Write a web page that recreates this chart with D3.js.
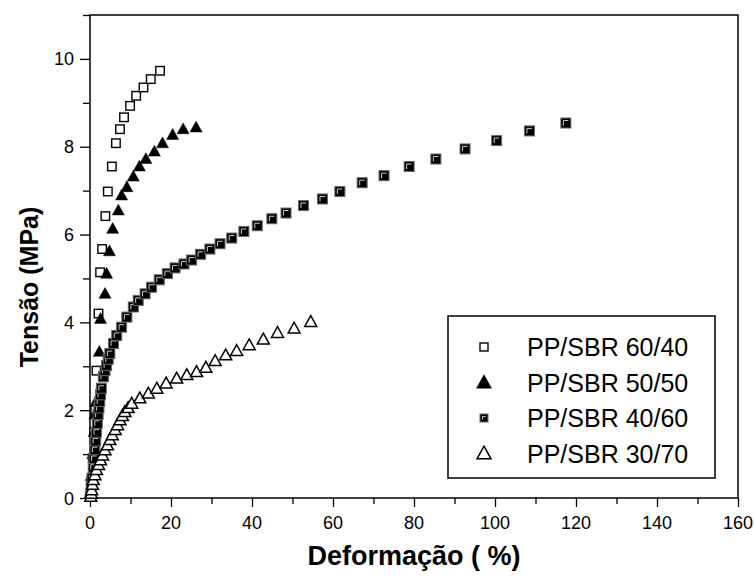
<!DOCTYPE html>
<html>
<head>
<meta charset="utf-8">
<script src="https://cdn.jsdelivr.net/npm/d3@7"></script>
<style>
  body { margin: 0; background: #fff; }
  text { font-family: "Liberation Sans", Arial, sans-serif; fill: #000; }
</style>
</head>
<body>
<svg id="chart" width="754" height="578"></svg>
<script>
// deformation (%) and stress (MPa) for each blend
const pp6040X = [0.2, 0.4, 0.7, 1.0, 1.3, 1.6, 2.1, 2.5, 3.0, 3.8, 4.4, 5.4, 6.4, 7.4, 8.4, 9.9, 11.4, 13.2, 15.0, 17.3];
const pp6040Y = [0.05, 0.4, 0.9, 1.5, 2.0, 2.9, 4.2, 5.14, 5.67, 6.42, 6.98, 7.55, 8.08, 8.40, 8.67, 8.93, 9.16, 9.35, 9.54, 9.73];

const pp5050X = [0.0, 0.3, 0.7, 1.0, 1.2, 1.5, 2.3, 2.6, 3.7, 4.1, 4.8, 5.6, 7.0, 7.8, 9.1, 10.7, 12.2, 13.8, 15.9, 17.9, 20.4, 23.0, 26.2];
const pp5050Y = [0.1, 0.5, 1.0, 1.5, 1.9, 2.2, 3.33, 4.08, 4.65, 5.11, 5.62, 6.13, 6.55, 6.89, 7.08, 7.32, 7.55, 7.72, 7.89, 8.08, 8.27, 8.40, 8.44];

const pp4060X = [0.1, 0.3, 0.5, 0.8, 1.0, 1.2, 1.4, 1.6, 1.8, 2.0, 2.2, 2.4, 2.6, 2.8, 3.3, 3.7, 4.1, 4.5, 4.9, 5.8, 6.6, 7.8, 9.1, 10.7, 11.9, 13.6, 15.2, 17.1, 19.1, 21.0, 23.2, 25.1, 27.3, 29.6, 32.1, 35.0, 38.0, 41.3, 44.9, 48.4, 52.7, 57.4, 61.7, 67.2, 72.6, 78.8, 85.4, 92.6, 100.4, 108.5, 117.5];
const pp4060Y = [0.05, 0.25, 0.45, 0.7, 0.9, 1.1, 1.3, 1.5, 1.7, 1.9, 2.05, 2.2, 2.35, 2.5, 2.76, 2.9, 3.02, 3.16, 3.29, 3.52, 3.70, 3.89, 4.12, 4.35, 4.50, 4.65, 4.80, 4.97, 5.11, 5.24, 5.33, 5.42, 5.55, 5.67, 5.79, 5.92, 6.07, 6.20, 6.36, 6.49, 6.66, 6.81, 6.98, 7.18, 7.34, 7.55, 7.72, 7.95, 8.14, 8.36, 8.54];

const pp3070X = [0.2, 0.3, 0.4, 0.6, 0.8, 1.2, 1.6, 2.1, 2.6, 3.1, 3.7, 4.3, 4.9, 5.5, 6.2, 6.8, 7.4, 8.0, 8.6, 9.4, 10.3, 12.3, 14.4, 16.5, 18.8, 21.4, 23.9, 26.3, 28.6, 30.9, 33.5, 36.2, 39.3, 42.8, 46.3, 50.4, 54.5];
const pp3070Y = [0.03, 0.1, 0.18, 0.3, 0.41, 0.52, 0.64, 0.75, 0.86, 0.97, 1.09, 1.2, 1.32, 1.43, 1.55, 1.66, 1.77, 1.87, 1.96, 2.05, 2.15, 2.27, 2.38, 2.49, 2.61, 2.72, 2.80, 2.87, 2.97, 3.12, 3.25, 3.35, 3.48, 3.61, 3.76, 3.86, 4.01];

const seriesNames = ["PP/SBR 60/40", "PP/SBR 50/50", "PP/SBR 40/60", "PP/SBR 30/70"];
const markerKinds = ["openSquare", "filledTriangle", "filledSquare", "openTriangle"];

const xTicks = [0, 20, 40, 60, 80, 100, 120, 140, 160];
const yTicks = [0, 2, 4, 6, 8, 10];

const series = [
  { name: seriesNames[0], kind: markerKinds[0], pts: pp6040X.map((x, i) => [x, pp6040Y[i]]) },
  { name: seriesNames[1], kind: markerKinds[1], pts: pp5050X.map((x, i) => [x, pp5050Y[i]]) },
  { name: seriesNames[2], kind: markerKinds[2], pts: pp4060X.map((x, i) => [x, pp4060Y[i]]) },
  { name: seriesNames[3], kind: markerKinds[3], pts: pp3070X.map((x, i) => [x, pp3070Y[i]]) }
];

const margin = { top: 15, right: 16, bottom: 80, left: 90 };
const svg = d3.select("#chart");
const width = +svg.attr("width");
const height = +svg.attr("height");

const x = d3.scaleLinear().domain([0, 160]).range([margin.left, width - margin.right]);
const y = d3.scaleLinear().domain([0, 11]).range([height - margin.bottom, margin.top]);

// draws one marker of the given kind at 0,0 inside g
function marker(g, kind, s) {
  if (kind === "openSquare") {
    g.append("rect").attr("x", -s / 2).attr("y", -s / 2).attr("width", s).attr("height", s)
      .attr("fill", "#fff").attr("stroke", "#000").attr("stroke-width", 1.4);
  } else if (kind === "filledSquare") {
    g.append("rect").attr("x", -s / 2).attr("y", -s / 2).attr("width", s).attr("height", s)
      .attr("fill", "#000").attr("stroke", "#666").attr("stroke-width", 1);
    const k = s / 2 - 2.5;
    g.append("path").attr("d", `M${-k},${k} L${-k},${-k} L${k},${-k}`)
      .attr("fill", "none").attr("stroke", "#ccc").attr("stroke-width", 1);
  } else {
    const h = s * 0.9;
    const tri = `M0,${-h * 0.58} L${s / 2},${h * 0.42} L${-s / 2},${h * 0.42} Z`;
    g.append("path").attr("d", tri)
      .attr("fill", kind === "filledTriangle" ? "#000" : "#fff")
      .attr("stroke", "#000").attr("stroke-width", kind === "filledTriangle" ? 0.5 : 1.5)
      .attr("stroke-linejoin", "miter");
  }
}

const sizes = { openSquare: 8.5, filledTriangle: 12, filledSquare: 10, openTriangle: 12 };

// axes
const xAxis = d3.axisBottom(x).tickValues(d3.range(0, 161, 10)).tickSize(0).tickFormat("");
const gx = svg.append("g").attr("transform", `translate(0,${y(0)})`).call(xAxis);
gx.select(".domain").remove();
gx.selectAll(".tick line").attr("y2", (d) => (d % 20 === 0 ? 9 : 6)).attr("stroke", "#000").attr("stroke-width", 1.3);

svg.append("g").selectAll("text").data(xTicks).enter().append("text")
  .attr("x", (d) => x(d)).attr("y", y(0) + 31)
  .attr("text-anchor", "middle").attr("font-size", 18).text((d) => d);

const yAxis = d3.axisLeft(y).tickValues(d3.range(0, 12, 1)).tickSize(0).tickFormat("");
const gy = svg.append("g").attr("transform", `translate(${x(0)},0)`).call(yAxis);
gy.select(".domain").remove();
gy.selectAll(".tick line").attr("x2", (d) => (d % 2 === 0 ? -10 : -7)).attr("stroke", "#000").attr("stroke-width", 1.3);

svg.append("g").selectAll("text").data(yTicks).enter().append("text")
  .attr("x", x(0) - 16).attr("y", (d) => y(d) + 6.5)
  .attr("text-anchor", "end").attr("font-size", 18).text((d) => d);

// frame
svg.append("rect")
  .attr("x", x(0)).attr("y", y(11))
  .attr("width", x(160) - x(0)).attr("height", y(0) - y(11))
  .attr("fill", "none").attr("stroke", "#000").attr("stroke-width", 1.5);

// markers
series.forEach((s) => {
  const g = svg.append("g");
  s.pts.forEach((p) => {
    const m = g.append("g").attr("transform", `translate(${x(p[0])},${y(p[1])})`);
    marker(m, s.kind, sizes[s.kind]);
  });
});

// titles
svg.append("text").attr("x", (x(0) + x(160)) / 2).attr("y", 565)
  .attr("text-anchor", "middle").attr("font-size", 27).attr("font-weight", "bold")
  .text("Deformação ( %)");
svg.append("text").attr("transform", `translate(38,287) rotate(-90)`)
  .attr("text-anchor", "middle").attr("font-size", 25).attr("font-weight", "bold")
  .text("Tensão (MPa)");

// legend
const lg = svg.append("g");
lg.append("rect").attr("x", 448).attr("y", 316).attr("width", 267).attr("height", 162)
  .attr("fill", "#fff").attr("stroke", "#000").attr("stroke-width", 1.5);
const legSizes = { openSquare: 8, filledTriangle: 15, filledSquare: 8, openTriangle: 14 };
series.forEach((s, i) => {
  const cy = 347 + i * 35.5;
  const m = lg.append("g").attr("transform", `translate(484,${cy})`);
  marker(m, s.kind, legSizes[s.kind]);
  lg.append("text").attr("x", 527).attr("y", cy + 9).attr("font-size", 25).text(s.name);
});
</script>
</body>
</html>
